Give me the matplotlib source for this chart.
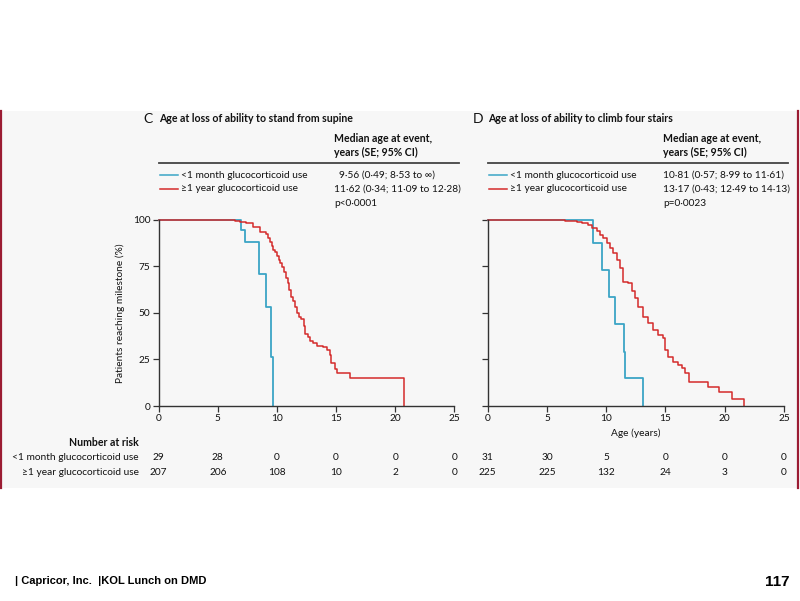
import numpy as np
import matplotlib
matplotlib.use("Agg")
import matplotlib.pyplot as plt
from matplotlib.patches import Rectangle
from matplotlib.lines import Line2D

W, H = 800, 601

# Kaplan-Meier steps (age in years, % remaining)
c_blue_t = [6.93, 7.30, 8.51, 9.08, 9.53, 9.64]
c_blue_s = [94.3, 88.2, 70.8, 53.0, 26.1, 0]
c_red_t = [6.45, 6.9, 7.4, 8.0, 8.55, 9.1, 9.25, 9.4, 9.55, 9.7, 9.85, 10.0, 10.15,
           10.3, 10.45, 10.6, 10.75, 10.9, 11.05, 11.2, 11.35, 11.5, 11.7, 11.85,
           12.05, 12.25, 12.4, 12.6, 12.8, 13.05, 13.35, 13.9, 14.2, 14.45, 14.55,
           14.9, 15.1, 16.2, 20.77]
c_red_s = [99.5, 99.0, 98.0, 96.2, 93.6, 92.1, 90.0, 88.0, 86.0, 84.0, 82.5, 80.5,
           78.4, 76.5, 74.8, 72.0, 68.5, 66.0, 62.3, 58.5, 56.5, 53.0, 50.0, 47.9,
           46.8, 43.0, 38.5, 37.2, 35.0, 33.6, 32.2, 31.5, 30.0, 27.4, 22.9, 19.7,
           17.5, 14.8, 0]
d_blue_t = [8.91, 9.65, 10.26, 10.74, 11.47, 11.59, 13.08]
d_blue_s = [87.5, 73.1, 58.4, 43.9, 29.2, 14.9, 0]
d_red_t = [6.52, 7.5, 7.93, 8.49, 8.77, 9.2, 9.48, 9.76, 10.04, 10.32, 10.6, 10.88,
           11.16, 11.39, 11.87, 12.15, 12.43, 12.71, 13.13, 13.55, 13.98, 14.4,
           14.76, 14.96, 15.24, 15.66, 16.09, 16.37, 16.65, 17.01, 18.62, 19.54,
           20.59, 21.63]
d_red_s = [99.5, 99.0, 98.2, 97.3, 95.5, 93.7, 91.9, 90.1, 87.5, 84.8, 82.1, 78.5,
           74.0, 66.8, 65.9, 61.5, 57.9, 53.4, 48.0, 44.4, 40.9, 38.2, 36.4, 30.1,
           26.5, 23.8, 22.0, 20.3, 17.6, 13.1, 10.4, 7.7, 3.8, 0]

xticks = [0, 5, 10, 15, 20, 25]
yticks = [0, 25, 50, 75, 100]
c_risk_blue = [29, 28, 0, 0, 0, 0]
c_risk_red = [207, 206, 108, 10, 2, 0]
d_risk_blue = [31, 30, 5, 0, 0, 0]
d_risk_red = [225, 225, 132, 24, 3, 0]

group_labels = ["<1 month glucocorticoid use", "\u22651 year glucocorticoid use"]
c_stats = ["9\u00b756 (0\u00b749; 8\u00b753 to \u221e)",
           "11\u00b762 (0\u00b734; 11\u00b709 to 12\u00b728)", "p<0\u00b70001"]
d_stats = ["10\u00b781 (0\u00b757; 8\u00b799 to 11\u00b761)",
           "13\u00b717 (0\u00b743; 12\u00b749 to 14\u00b713)", "p=0\u00b70023"]

BLUE = "#3ba5c6"
RED = "#d42b2b"
TXT = "#111111"
FONT = ["Lato", "DejaVu Sans"]
FS = 7.3
FSB = 7.6

plt.rcParams['font.family'] = FONT


def fx(x):
    return x / W


def fy(y):
    return 1 - y / H


fig = plt.figure(figsize=(8, 6.01), dpi=100)
fig.patch.set_facecolor("white")

# grey panel with dark red side rules
fig.patches.append(Rectangle((fx(0), fy(488)), fx(797), (488 - 111) / H,
                             transform=fig.transFigure, facecolor="#f7f7f7",
                             edgecolor="none", zorder=-5))
for xr in [1, 797.5]:
    fig.lines.append(Line2D([fx(xr), fx(xr)], [fy(111), fy(488)],
                            transform=fig.transFigure, color="#9b1c33", lw=1.6))


def txt(x, y, s, **kw):
    kw.setdefault("fontsize", FS)
    kw.setdefault("color", TXT)
    kw.setdefault("va", "center")
    fig.text(fx(x), fy(y), s, **kw)


def panel(x0, x1, letter, title, stats, bt, bs, rt, rs, risk_b, risk_r, ylab, xlab):
    ax = fig.add_axes([fx(x0), fy(406), (x1 - x0) / W, (406 - 219.7) / H])
    ax.set_facecolor("none")
    ax.step([0] + bt, [100] + bs, where="post", color=BLUE, lw=1.3, clip_on=False)
    ax.step([0] + rt, [100] + rs, where="post", color=RED, lw=1.1, clip_on=False)
    ax.set_xlim(0, 25)
    ax.set_ylim(0, 100)
    ax.set_xticks(xticks)
    ax.set_yticks(yticks)
    for s in ["top", "right"]:
        ax.spines[s].set_visible(False)
    for s in ["left", "bottom"]:
        ax.spines[s].set_color("#333333")
        ax.spines[s].set_linewidth(1.0)
    ax.tick_params(length=4, width=0.9, color="#333333", labelsize=FS,
                   labelcolor=TXT, pad=2)
    if ylab:
        ax.set_ylabel("Patients reaching milestone (%)", fontsize=FS, color=TXT,
                      labelpad=6)
    else:
        ax.set_yticklabels([])
    if xlab:
        ax.set_xlabel("Age (years)", fontsize=FS, color=TXT, labelpad=4)

    # header and legend
    txt(x0 - 15, 119, letter, fontsize=10)
    txt(x0, 119, title, fontweight="bold", fontsize=FSB)
    sx = x0 + 175.5
    txt(sx, 138, "Median age at event,", fontweight="bold", fontsize=FSB)
    txt(sx, 152, "years (SE; 95% CI)", fontweight="bold", fontsize=FSB)
    fig.lines.append(Line2D([fx(x0), fx(x0 + 300)], [fy(163.3), fy(163.3)],
                            transform=fig.transFigure, color="#444444", lw=1.3))
    for yy, col, lab in [(175, BLUE, group_labels[0]), (189, RED, group_labels[1])]:
        fig.lines.append(Line2D([fx(x0 + 1), fx(x0 + 19)], [fy(yy), fy(yy)],
                                transform=fig.transFigure, color=col, lw=1.1))
        txt(x0 + 22.5, yy, lab)
    txt(sx + (5 if stats[0].startswith("9") else 0), 175, stats[0])
    txt(sx, 189, stats[1])
    txt(sx, 204, stats[2])

    # numbers at risk
    for xt, nb, nr in zip(xticks, risk_b, risk_r):
        xp = x0 + (x1 - x0) * xt / 25
        txt(xp, 458, str(nb), ha="center")
        txt(xp, 472.5, str(nr), ha="center")
    return ax


panel(158.7, 454.3, "C", "Age at loss of ability to stand from supine", c_stats,
      c_blue_t, c_blue_s, c_red_t, c_red_s, c_risk_blue, c_risk_red, True, False)
panel(487.7, 784.0, "D", "Age at loss of ability to climb four stairs", d_stats,
      d_blue_t, d_blue_s, d_red_t, d_red_s, d_risk_blue, d_risk_red, False, True)

txt(139, 443, "Number at risk", ha="right", fontweight="bold", fontsize=FSB)
txt(139, 458, group_labels[0], ha="right")
txt(139, 472.5, group_labels[1], ha="right")

# slide footer
foot = ["Liberation Sans Narrow", "Liberation Sans", "DejaVu Sans"]
fig.text(fx(15), fy(581), "| Capricor, Inc.  |KOL Lunch on DMD", fontsize=8.0,
         fontweight="bold", color="black", va="center", family=foot)
fig.text(fx(790), fy(582), "117", fontsize=11, fontweight="bold", color="black",
         va="center", ha="right", family=foot)

fig.savefig("out.png", dpi=100, facecolor=fig.get_facecolor())
